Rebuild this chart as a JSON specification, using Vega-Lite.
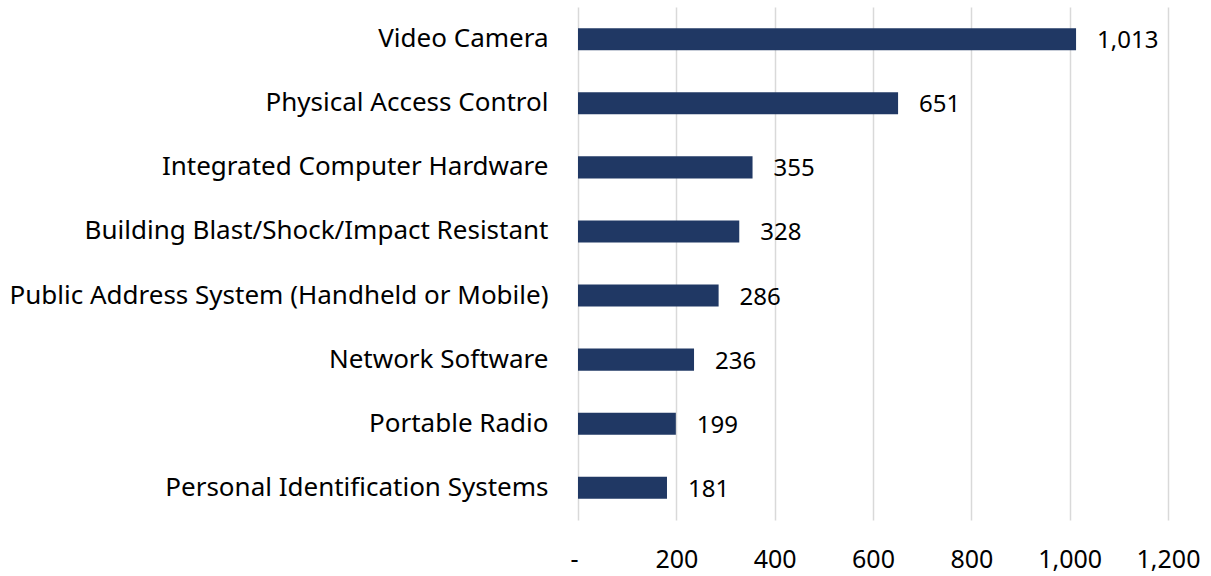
{
  "$schema": "https://vega.github.io/schema/vega-lite/v6.json",
  "autosize": "none",
  "padding": {"left": 578, "top": 7, "right": 43, "bottom": 56},
  "width": 590,
  "height": 513,
  "background": "white",
  "config": {"view": {"stroke": null}, "font": "Noto Sans"},
  "data": {"values": [
    {"category": "Video Camera", "value": 1013},
    {"category": "Physical Access Control", "value": 651},
    {"category": "Integrated Computer Hardware", "value": 355},
    {"category": "Building Blast/Shock/Impact Resistant", "value": 328},
    {"category": "Public Address System (Handheld or Mobile)", "value": 286},
    {"category": "Network Software", "value": 236},
    {"category": "Portable Radio", "value": 199},
    {"category": "Personal Identification Systems", "value": 181}
  ]},
  "encoding": {
    "y": {"field": "category", "type": "nominal", "sort": null,
      "scale": {"paddingInner": 0.655, "paddingOuter": 0.33},
      "axis": {"title": null, "domain": false, "ticks": false, "labelPadding": 30,
        "labelFontSize": 26, "labelColor": "#000000", "labelFont": "Noto Sans", "labelLimit": 700}},
    "x": {"field": "value", "type": "quantitative",
      "scale": {"domain": [0, 1200], "nice": false},
      "axis": {"title": null, "domain": false, "ticks": false, "values": [0,200,400,600,800,1000,1200],
        "labelExpr": "datum.value == 0 ? '-' : format(datum.value, ',')",
        "labelAlign": {"condition": {"test": "datum.value == 0", "value": "right"}, "value": "center"},
        "labelPadding": 27, "labelFontSize": 25, "labelColor": "#000000",
        "gridColor": "#d9d9d9", "gridWidth": 1.5, "labelFlush": false}}
  },
  "layer": [
    {"mark": {"type": "bar", "color": "#203864"}},
    {"mark": {"type": "text", "align": "left", "dx": 21, "dy": 2, "fontSize": 24, "color": "#000000"},
     "encoding": {"text": {"field": "value", "type": "quantitative", "format": ","}}}
  ]
}
